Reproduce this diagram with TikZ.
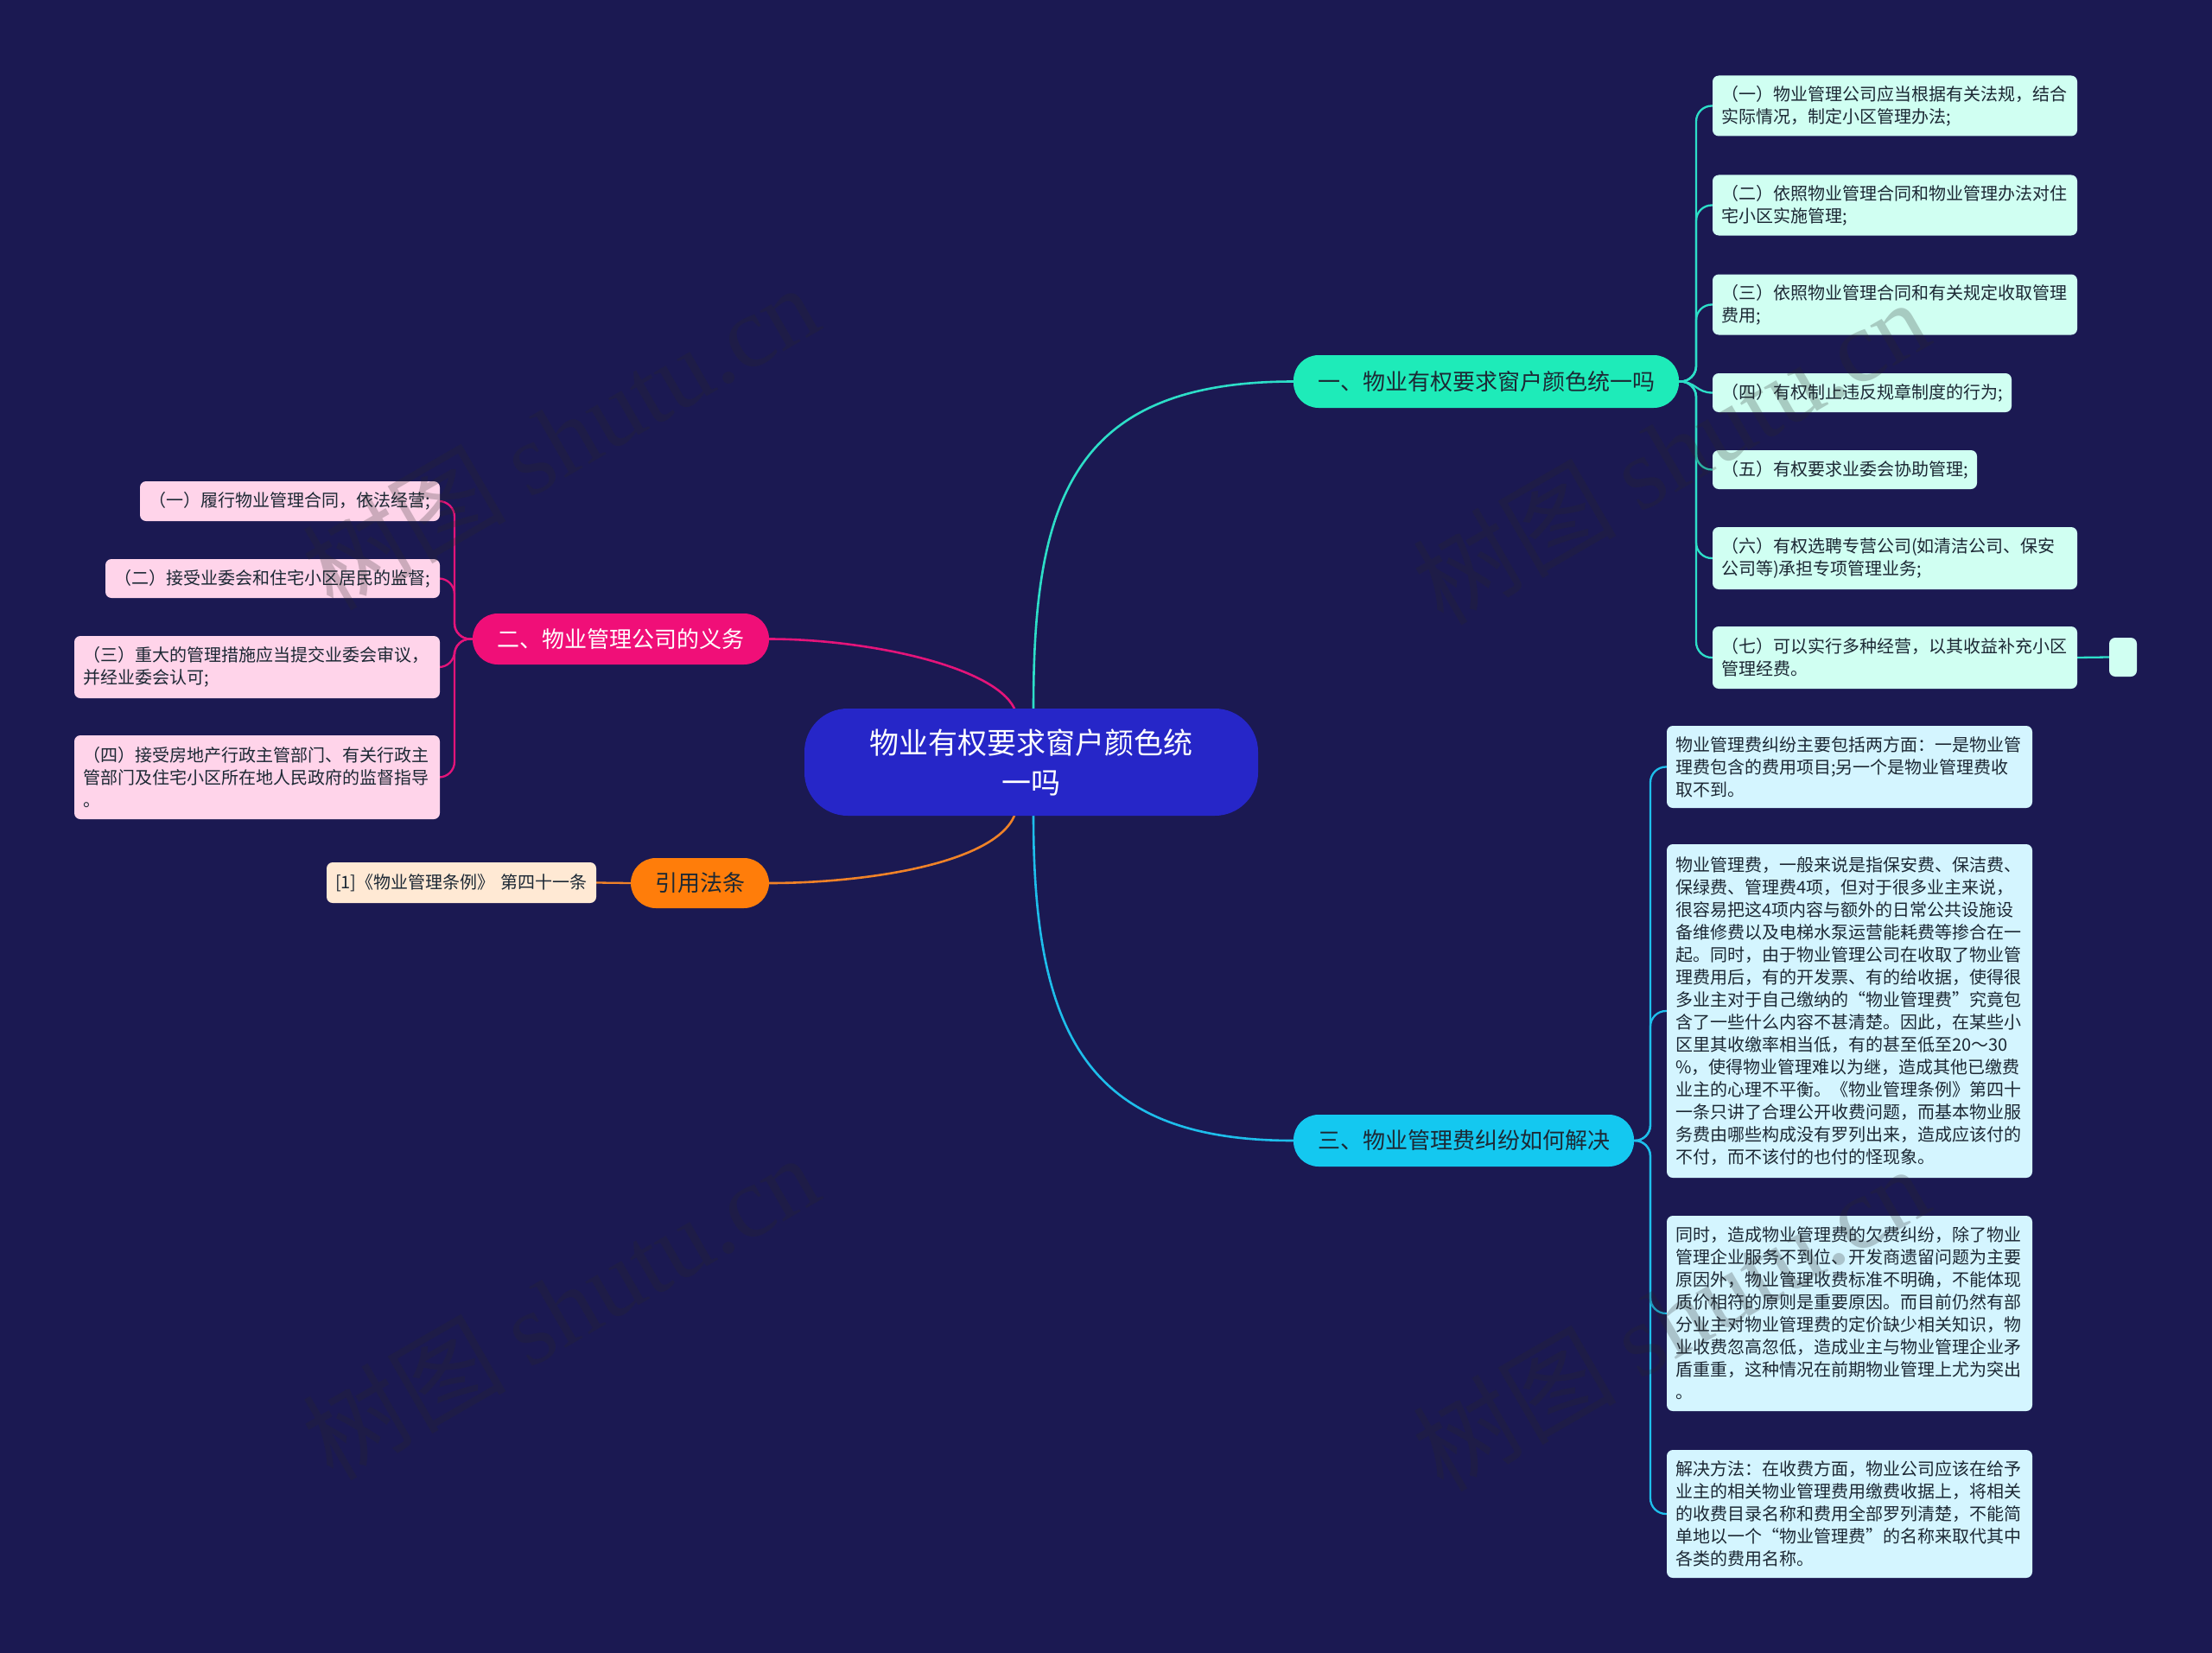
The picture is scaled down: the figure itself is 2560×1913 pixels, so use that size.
\documentclass[tikz,border=0pt]{standalone}
\usepackage{fontspec}
\setmainfont{Noto Sans CJK SC}
\newfontfamily\wmserif{Liberation Serif}
\definecolor{bg}{RGB}{27,25,82}
\definecolor{cfill}{RGB}{38,38,200}
\definecolor{aFill}{RGB}{30,235,185}
\definecolor{aLine}{RGB}{45,222,200}
\definecolor{aLeaf}{RGB}{208,255,242}
\definecolor{bFill}{RGB}{240,15,120}
\definecolor{bLine}{RGB}{228,20,122}
\definecolor{bLeaf}{RGB}{255,212,234}
\definecolor{cFill}{RGB}{255,125,10}
\definecolor{cLine}{RGB}{240,130,40}
\definecolor{cLeaf}{RGB}{255,233,212}
\definecolor{dFill}{RGB}{20,200,240}
\definecolor{dLine}{RGB}{30,190,235}
\definecolor{dLeaf}{RGB}{212,245,255}
\definecolor{darktext}{RGB}{28,40,52}
\definecolor{wmgray}{RGB}{40,40,40}
\pgfdeclarelayer{bgfill}
\pgfdeclarelayer{lines}
\pgfsetlayers{bgfill,lines,main}
\begin{document}
\begin{tikzpicture}[x=1pt,y=-1pt,
  leaf/.style={rounded corners=7pt, inner xsep=10pt, inner ysep=0pt, align=left,
    font=\fontsize{20}{26}\selectfont, text=darktext},
  branch/.style={rounded corners=29pt, inner sep=0pt, font=\fontsize{26}{30}\selectfont},
  conn/.style={line width=2.6pt, line cap=round},
  sub/.style={line width=2.3pt, line cap=round, rounded corners=18pt},
  wm/.style={rotate=30, opacity=0.24, text=wmgray, font=\fontsize{118}{120}\selectfont}]
\begin{pgfonlayer}{bgfill}
\fill[bg] (0,0) rectangle (2560,1913);
\end{pgfonlayer}
\useasboundingbox (0,0) rectangle (2560,1913);

% ---- nodes ----
\node[fill=cfill, rounded corners=50pt, minimum width=525pt, minimum height=124pt, inner sep=0pt,
  align=center, text=white, font=\fontsize{34}{46}\selectfont] (root) at (1193.5,882) {物业有权要求窗户颜色统\\一吗};

\node[branch, fill=aFill, text=darktext, minimum width=446pt, minimum height=61pt] (b1) at (1720,441.5) {一、物业有权要求窗户颜色统一吗};
\node[branch, fill=bFill, text=white, minimum width=343pt, minimum height=59pt] (b2) at (718.5,739.5) {二、物业管理公司的义务};
\node[branch, fill=cFill, text=darktext, minimum width=160pt, minimum height=58pt] (b3) at (810,1022) {引用法条};
\node[branch, fill=dFill, text=darktext, minimum width=394pt, minimum height=60pt] (b4) at (1694,1320) {三、物业管理费纠纷如何解决};

% branch 1 leaves
\node[leaf, fill=aLeaf, text width=402pt, minimum height=70pt] (a1) at (2193,122.5) {（一）物业管理公司应当根据有关法规，结合\\实际情况，制定小区管理办法;};
\node[leaf, fill=aLeaf, text width=402pt, minimum height=70pt] (a2) at (2193,237.5) {（二）依照物业管理合同和物业管理办法对住\\宅小区实施管理;};
\node[leaf, fill=aLeaf, text width=402pt, minimum height=70pt] (a3) at (2193,352.5) {（三）依照物业管理合同和有关规定收取管理\\费用;};
\node[leaf, fill=aLeaf, text width=326pt, minimum height=45pt] (a4) at (2155,454.5) {（四）有权制止违反规章制度的行为;};
\node[leaf, fill=aLeaf, text width=286pt, minimum height=45pt] (a5) at (2135,543.5) {（五）有权要求业委会协助管理;};
\node[leaf, fill=aLeaf, text width=402pt, minimum height=72pt] (a6) at (2193,646) {（六）有权选聘专营公司(如清洁公司、保安\\公司等)承担专项管理业务;};
\node[leaf, fill=aLeaf, text width=402pt, minimum height=72pt] (a7) at (2193,761) {（七）可以实行多种经营，以其收益补充小区\\管理经费。};
\node[fill=aLeaf, rounded corners=7pt, minimum width=32pt, minimum height=45pt, inner sep=0pt] (a8) at (2457,760.5) {};

% branch 2 leaves
\node[leaf, fill=bLeaf, text width=327pt, minimum height=46pt] (p1) at (335.5,580) {（一）履行物业管理合同，依法经营;};
\node[leaf, fill=bLeaf, text width=367pt, minimum height=45pt] (p2) at (315.5,669.5) {（二）接受业委会和住宅小区居民的监督;};
\node[leaf, fill=bLeaf, text width=403pt, minimum height=72pt] (p3) at (297.5,772) {（三）重大的管理措施应当提交业委会审议，\\并经业委会认可;};
\node[leaf, fill=bLeaf, text width=403pt, minimum height=97pt] (p4) at (297.5,899.5) {（四）接受房地产行政主管部门、有关行政主\\管部门及住宅小区所在地人民政府的监督指导\\。};

% branch 3 leaf
\node[leaf, fill=cLeaf, text width=292pt, minimum height=47pt] (r1) at (534,1021.5) {[1]《物业管理条例》 第四十一条};

% branch 4 leaves
\node[leaf, fill=dLeaf, text width=403pt, minimum height=95pt] (d1) at (2140.5,887.5) {物业管理费纠纷主要包括两方面：一是物业管\\理费包含的费用项目;另一个是物业管理费收\\取不到。};
\node[leaf, fill=dLeaf, text width=403pt, minimum height=386pt] (d2) at (2140.5,1170) {物业管理费，一般来说是指保安费、保洁费、\\保绿费、管理费4项，但对于很多业主来说，\\很容易把这4项内容与额外的日常公共设施设\\备维修费以及电梯水泵运营能耗费等掺合在一\\起。同时，由于物业管理公司在收取了物业管\\理费用后，有的开发票、有的给收据，使得很\\多业主对于自己缴纳的“物业管理费”究竟包\\含了一些什么内容不甚清楚。因此，在某些小\\区里其收缴率相当低，有的甚至低至20～30\\\%，使得物业管理难以为继，造成其他已缴费\\业主的心理不平衡。《物业管理条例》第四十\\一条只讲了合理公开收费问题，而基本物业服\\务费由哪些构成没有罗列出来，造成应该付的\\不付，而不该付的也付的怪现象。};
\node[leaf, fill=dLeaf, text width=403pt, minimum height=226pt] (d3) at (2140.5,1520) {同时，造成物业管理费的欠费纠纷，除了物业\\管理企业服务不到位、开发商遗留问题为主要\\原因外，物业管理收费标准不明确，不能体现\\质价相符的原则是重要原因。而目前仍然有部\\分业主对物业管理费的定价缺少相关知识，物\\业收费忽高忽低，造成业主与物业管理企业矛\\盾重重，这种情况在前期物业管理上尤为突出\\。};
\node[leaf, fill=dLeaf, text width=403pt, minimum height=148pt] (d4) at (2140.5,1752) {解决方法：在收费方面，物业公司应该在给予\\业主的相关物业管理费用缴费收据上，将相关\\的收费目录名称和费用全部罗列清楚，不能简\\单地以一个“物业管理费”的名称来取代其中\\各类的费用名称。};

% ---- connectors (behind nodes) ----
\begin{pgfonlayer}{lines}
\coordinate (rt1) at (1196,820);
\coordinate (rt2) at (1174,820);
\coordinate (rb1) at (1196,944);
\coordinate (rb2) at (1174,944);

\draw[conn, aLine] (rt1) .. controls (1196,580) and (1240,441.5) .. (b1.west);
\draw[conn, bLine] (rt2) .. controls (1150,770) and (1000,739.5) .. (b2.east);
\draw[conn, cLine] (rb2) .. controls (1150,1000) and (1000,1022) .. (b3.east);
\draw[conn, dLine] (rb1) .. controls (1196,1200) and (1260,1320) .. (b4.west);

% branch 1
\foreach \n/\y in {a1/122.5,a2/237.5,a3/352.5,a5/543.5,a6/646,a7/761}
  \draw[sub, aLine] (b1.east) -- (1963,441.5) -- (1963,\y) -- (\n.west);
\draw[sub, aLine, rounded corners=0pt] (b1.east) .. controls (1963,441.5) and (1963,454.5) .. (a4.west);
\draw[sub, aLine] (a7.east) -- (a8.west);

% branch 2
\foreach \n/\y in {p1/580,p2/669.5,p3/772,p4/899.5}
  \draw[sub, bLine] (b2.west) -- (526,739.5) -- (526,\y) -- (\n.east);
\draw[sub, cLine] (b3.west) -- (r1.east);

% branch 4
\foreach \n/\y in {d1/887.5,d2/1170,d3/1520,d4/1752}
  \draw[sub, dLine] (b4.east) -- (1910,1320) -- (1910,\y) -- (\n.west);
\end{pgfonlayer}

% ---- watermarks ----
\node[wm] (w1) at (648,505) {树图 {\wmserif shutu.cn}};
\node[wm] (w2) at (648,1512) {树图 {\wmserif shutu.cn}};
\node[wm] (w3) at (1933,522) {树图 {\wmserif shutu.cn}};
\node[wm] (w4) at (1933,1525) {树图 {\wmserif shutu.cn}};
\end{tikzpicture}
\end{document}
